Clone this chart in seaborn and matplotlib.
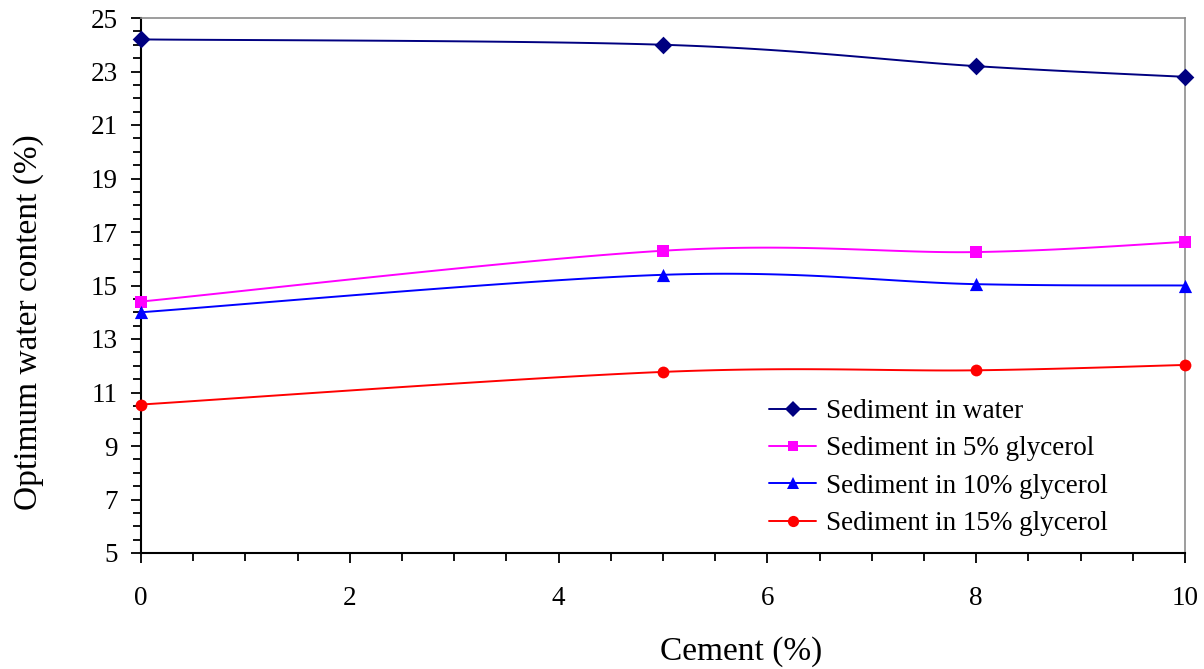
import numpy as np
import pandas as pd
import matplotlib
matplotlib.use("Agg")
import matplotlib.pyplot as plt
from matplotlib.lines import Line2D
from matplotlib.ticker import MultipleLocator
import seaborn as sns

# Cement content (%) and optimum water content (%) for each sediment mix
cement = [0, 5, 8, 10]
water = [24.2, 24.0, 23.2, 22.8]
glycerol_5 = [14.4, 16.3, 16.25, 16.63]
glycerol_10 = [14.0, 15.4, 15.05, 15.0]
glycerol_15 = [10.55, 11.77, 11.83, 12.03]

labels = ["Sediment in water", "Sediment in 5% glycerol",
          "Sediment in 10% glycerol", "Sediment in 15% glycerol"]
colors = ["#000080", "#FF00FF", "#0000FF", "#FF0000"]
markers = ["D", "s", "^", "o"]
msizes = [9, 8, 9.5, 8.5]

sns.set_style("ticks")
plt.rcParams["font.family"] = ["Liberation Serif", "DejaVu Serif"]
for key in ["text.color", "axes.labelcolor", "xtick.color", "ytick.color"]:
    plt.rcParams[key] = "black"


def smooth_curve(x, y, n=40):
    """Cubic Bezier smoothing through the points (spreadsheet-style smoothed line)."""
    pts = np.column_stack([np.asarray(x, float), np.asarray(y, float)])
    out = []
    for i in range(len(pts) - 1):
        p0 = pts[i - 1] if i > 0 else pts[i]
        p1, p2 = pts[i], pts[i + 1]
        p3 = pts[i + 2] if i + 2 < len(pts) else pts[i + 1]
        c1 = p1 + (p2 - p0) / 6.0
        c2 = p2 - (p3 - p1) / 6.0
        t = np.linspace(0, 1, n)[:, None]
        seg = ((1 - t) ** 3) * p1 + 3 * ((1 - t) ** 2) * t * c1 \
            + 3 * (1 - t) * (t ** 2) * c2 + (t ** 3) * p2
        out.append(seg if i == 0 else seg[1:])
    return np.vstack(out)


fig = plt.figure(figsize=(12.04, 6.69), dpi=100)
ax = fig.add_axes([141 / 1204, 1 - 553 / 669, 1044 / 1204, 535 / 669])

series = [water, glycerol_5, glycerol_10, glycerol_15]
for vals, col, mk, ms in zip(series, colors, markers, msizes):
    curve = smooth_curve(cement, vals)
    sns.lineplot(x=curve[:, 0], y=curve[:, 1], sort=False, estimator=None,
                 color=col, lw=1.4, ax=ax, zorder=3)
    df = pd.DataFrame({"x": cement, "y": vals})
    sns.scatterplot(data=df, x="x", y="y", marker=mk, s=ms ** 2, color=col,
                    edgecolor=col, linewidth=0, ax=ax, zorder=4, clip_on=False)

ax.set_xlim(0, 10)
ax.set_ylim(5, 25)
ax.xaxis.set_major_locator(MultipleLocator(2))
ax.xaxis.set_minor_locator(MultipleLocator(0.5))
ax.yaxis.set_major_locator(MultipleLocator(2))
ax.yaxis.set_minor_locator(MultipleLocator(0.5))
ax.set_yticks(np.arange(5, 26, 2))

ax.tick_params(axis="both", which="major", direction="out", length=7, width=1.3,
               labelsize=19.5, color="black", labelcolor="black")
ax.tick_params(axis="y", which="major", pad=10)
ax.tick_params(axis="x", which="major", pad=17)
ax.tick_params(axis="both", which="minor", direction="out", length=5.5, width=1.3,
               color="black")

for side in ["left", "bottom"]:
    ax.spines[side].set_color("black")
    ax.spines[side].set_linewidth(1.5)
for side in ["top", "right"]:
    ax.spines[side].set_color("#8c8c8c")
    ax.spines[side].set_linewidth(1.2)
    ax.spines[side].set_visible(True)

ax.set_xlabel("Cement (%)", fontsize=24)
ax.set_ylabel("Optimum water content (%)", fontsize=24)
ax.xaxis.set_label_coords((741 - 141) / 1044, -(652 - 553) / 535)
ax.yaxis.set_label_coords((29 - 141) / 1044, (553 - 322) / 535)
ax.xaxis.label.set_va("center")
ax.yaxis.label.set_va("center")

handles = [Line2D([], [], color=c, marker=m, markersize=ms * 0.95, lw=1.4,
                  markeredgewidth=0)
           for c, m, ms in zip(colors, markers, msizes)]
ax.legend(handles, labels, loc="upper left",
          bbox_to_anchor=(769 / 1204, 1 - 399 / 669),
          bbox_transform=fig.transFigure, frameon=False, fontsize=19.5,
          handlelength=1.75, handletextpad=0.35, labelspacing=0.46,
          borderpad=0, borderaxespad=0)

fig.savefig("out.png", dpi=100)
